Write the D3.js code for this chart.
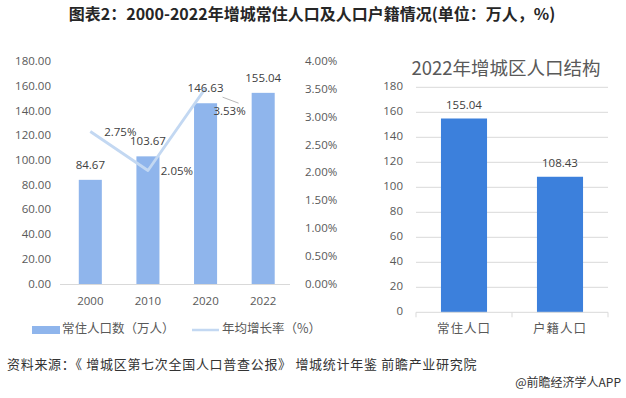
<!DOCTYPE html>
<html><head><meta charset="utf-8">
<script src="https://cdn.jsdelivr.net/npm/d3@7"></script>
<style>
body{margin:0;background:#fff;}
svg{display:block;}
text{font-family:"Open Sans","Noto Sans CJK SC",sans-serif;}
.cjk{font-family:"Noto Sans CJK SC","Noto Sans",sans-serif;}
</style></head>
<body>
<svg id="c" width="626" height="398"></svg>
<script>
// ---- data ----
const years = ["2000","2010","2020","2022"];
const residentPop = [84.67, 103.67, 146.63, 155.04];
const growthYears = ["2000","2010","2020"];
const growthRate = [2.75, 2.05, 3.53];
const leftTicks = [0,20,40,60,80,100,120,140,160,180];
const pctTicks = [0,0.5,1,1.5,2,2.5,3,3.5,4];
const structCats = ["常住人口","户籍人口"];
const structVals = [155.04, 108.43];
const rightTicks = [0,20,40,60,80,100,120,140,160,180];

const svg = d3.select("#c");
const axisCol = "#595959";
const barLight = "#8fb5ec";
const barDark = "#3c80dc";
const lineCol = "#c3d8f2";

// title
svg.append("text").attr("class","cjk").attr("x",312).attr("y",16)
  .attr("text-anchor","middle").attr("dominant-baseline","middle")
  .attr("font-size",16).attr("font-weight","bold").attr("fill","#262626")
  .text("图表2：2000-2022年增城常住人口及人口户籍情况(单位：万人，%)");

// ---- left chart ----
const xL = d3.scaleBand().domain(years).range([61.5,292]).paddingInner(0.6).paddingOuter(0.3);
const yL = d3.scaleLinear().domain([0,180]).range([284.5,62]);
const yP = d3.scaleLinear().domain([0,4]).range([284.5,62]);

const gL = svg.append("g");
gL.selectAll(".ylab").data(leftTicks).join("text")
  .attr("x",51).attr("y",d=>yL(d)).attr("text-anchor","end").attr("dominant-baseline","middle")
  .attr("font-size",11.5).attr("fill",axisCol).text(d=>d.toFixed(2));
gL.selectAll(".plab").data(pctTicks).join("text")
  .attr("x",305).attr("y",d=>yP(d)).attr("text-anchor","start").attr("dominant-baseline","middle")
  .attr("font-size",11.5).attr("fill",axisCol).text(d=>d.toFixed(2)+"%");

gL.selectAll("rect.bar").data(residentPop).join("rect").attr("class","bar")
  .attr("x",(d,i)=>xL(years[i])).attr("width",xL.bandwidth())
  .attr("y",d=>yL(d)).attr("height",d=>yL(0)-yL(d)).attr("fill",barLight);

gL.append("line").attr("x1",60).attr("x2",290).attr("y1",yL(0)).attr("y2",yL(0))
  .attr("stroke","#d9d9d9").attr("stroke-width",1);

gL.selectAll(".xlab").data(years).join("text")
  .attr("x",d=>xL(d)+xL.bandwidth()/2).attr("y",302).attr("text-anchor","middle")
  .attr("dominant-baseline","middle").attr("font-size",11.5).attr("fill",axisCol).text(d=>d);

const line = d3.line().x((d,i)=>xL(growthYears[i])+xL.bandwidth()/2).y(d=>yP(d));
gL.append("path").datum(growthRate).attr("d",line).attr("fill","none")
  .attr("stroke",lineCol).attr("stroke-width",2.8).attr("stroke-linejoin","round");

gL.selectAll(".vlab").data(residentPop).join("text")
  .attr("x",(d,i)=>xL(years[i])+xL.bandwidth()/2).attr("y",d=>yL(d)-14)
  .attr("text-anchor","middle").attr("dominant-baseline","middle")
  .attr("font-size",11.5).attr("fill","#404040").text(d=>d.toFixed(2));

const pctOff = [[30,1],[29,1],[24,24]];
gL.selectAll(".glab").data(growthRate).join("text")
  .attr("x",(d,i)=>xL(growthYears[i])+xL.bandwidth()/2+pctOff[i][0])
  .attr("y",(d,i)=>yP(d)+pctOff[i][1])
  .attr("text-anchor","middle").attr("dominant-baseline","middle")
  .attr("font-size",11.5).attr("fill","#404040").text(d=>d.toFixed(2)+"%");
// leader line for 3.53%
{
  const cx = xL("2020")+xL.bandwidth()/2;
  gL.append("line").attr("x1",cx+17).attr("y1",yP(3.53)+9).attr("x2",cx+33).attr("y2",yP(3.53)+15)
    .attr("stroke","#a6a6a6").attr("stroke-width",0.8);
}

// legend
svg.append("rect").attr("x",32).attr("y",326).attr("width",28).attr("height",8).attr("fill",barLight);
svg.append("text").attr("class","cjk").attr("x",62).attr("y",330).attr("dominant-baseline","middle")
  .attr("font-size",12.5).attr("fill",axisCol).text("常住人口数（万人）");
svg.append("line").attr("x1",192).attr("x2",219).attr("y1",330).attr("y2",330)
  .attr("stroke",lineCol).attr("stroke-width",2.5);
svg.append("text").attr("class","cjk").attr("x",222).attr("y",330).attr("dominant-baseline","middle")
  .attr("font-size",12.5).attr("fill",axisCol).text("年均增长率（%）");

// ---- right chart ----
const xR = d3.scaleBand().domain(structCats).range([416,608]).paddingInner(0.52).paddingOuter(0.26);
const yR = d3.scaleLinear().domain([0,180]).range([312.3,87.3]);
const gR = svg.append("g");

svg.append("text").attr("class","cjk").attr("x",506).attr("y",70)
  .attr("text-anchor","middle").attr("dominant-baseline","middle")
  .attr("font-size",18.5).attr("fill",axisCol).text("2022年增城区人口结构");

gR.selectAll(".grid").data(rightTicks.filter(d=>d>0)).join("line")
  .attr("x1",416).attr("x2",608).attr("y1",d=>yR(d)).attr("y2",d=>yR(d))
  .attr("stroke","#d9d9d9").attr("stroke-width",1);
gR.selectAll(".rylab").data(rightTicks).join("text")
  .attr("x",403).attr("y",d=>yR(d)).attr("text-anchor","end").attr("dominant-baseline","middle")
  .attr("font-size",11.5).attr("fill",axisCol).text(d=>d);

gR.selectAll("rect.bar").data(structVals).join("rect").attr("class","bar")
  .attr("x",(d,i)=>xR(structCats[i])).attr("width",xR.bandwidth())
  .attr("y",d=>yR(d)).attr("height",d=>yR(0)-yR(d)).attr("fill",barDark);

gR.append("line").attr("x1",416).attr("x2",608).attr("y1",yR(0)).attr("y2",yR(0))
  .attr("stroke","#d9d9d9").attr("stroke-width",1);
const tickXs = [416, 416 + xR.step(), 608];
gR.selectAll(".tk").data(tickXs).join("line")
  .attr("x1",d=>d).attr("x2",d=>d).attr("y1",yR(0)).attr("y2",yR(0)+5)
  .attr("stroke","#d9d9d9").attr("stroke-width",1);

gR.selectAll(".rvlab").data(structVals).join("text")
  .attr("x",(d,i)=>xR(structCats[i])+xR.bandwidth()/2).attr("y",d=>yR(d)-13)
  .attr("text-anchor","middle").attr("dominant-baseline","middle")
  .attr("font-size",11.5).attr("fill","#404040").text(d=>d.toFixed(2));

gR.selectAll(".rxlab").data(structCats).join("text").attr("class","cjk")
  .attr("x",d=>xR(d)+xR.bandwidth()/2).attr("y",330).attr("text-anchor","middle")
  .attr("dominant-baseline","middle").attr("font-size",12.5).attr("letter-spacing",1)
  .attr("fill",axisCol).text(d=>d);

// source
svg.append("text").attr("class","cjk").attr("x",7).attr("y",365).attr("dominant-baseline","middle")
  .attr("font-size",13).attr("letter-spacing",0.7).attr("fill","#333").text("资料来源：《 增城区第七次全国人口普查公报》 增城统计年鉴 前瞻产业研究院");
svg.append("text").attr("class","cjk").attr("x",621).attr("y",384).attr("text-anchor","end")
  .attr("dominant-baseline","middle").attr("font-size",12).attr("fill","#333").text("@前瞻经济学人APP");
</script>
</body></html>
